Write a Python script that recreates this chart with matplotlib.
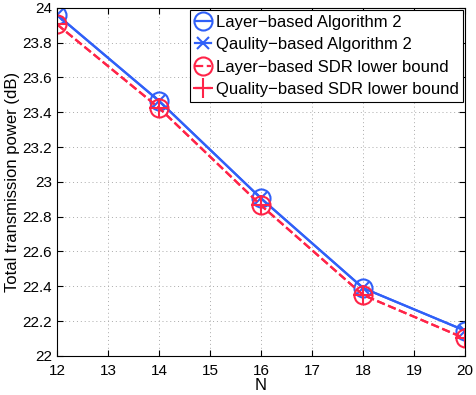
import matplotlib.pyplot as plt

plt.rcParams['font.family'] = ['Liberation Sans', 'DejaVu Sans']

N = [12, 14, 16, 18, 20]
layer_alg = [23.96, 23.465, 22.905, 22.39, 22.145]
quality_alg = [23.96, 23.465, 22.905, 22.39, 22.145]
layer_sdr = [23.905, 23.425, 22.865, 22.35, 22.10]
quality_sdr = [23.905, 23.425, 22.865, 22.35, 22.10]

xticks = [12, 13, 14, 15, 16, 17, 18, 19, 20]
yticks = [22, 22.2, 22.4, 22.6, 22.8, 23, 23.2, 23.4, 23.6, 23.8, 24]

blue = '#3060f8'
red = '#ff2448'

fig = plt.figure(figsize=(4.76, 3.95), dpi=100)
ax = fig.add_axes([0.12, 0.099, 0.857, 0.881])

ax.plot(N, layer_alg, '-', color=blue, lw=1.6, marker='o', ms=13,
        mfc='none', mew=1.5, label='Layer\u2212based Algorithm 2')
ax.plot(N, quality_alg, '-', color=blue, lw=1.6, marker='x', ms=9,
        mew=1.5, label='Qaulity\u2212based Algorithm 2')
ax.plot(N, layer_sdr, '--', color=red, lw=1.6, marker='o', ms=13,
        mfc='none', mew=1.5, label='Layer\u2212based SDR lower bound')
ax.plot(N, quality_sdr, '--', color=red, lw=1.6, marker='+', ms=14,
        mew=1.5, label='Quality\u2212based SDR lower bound')

ax.set_xlim(12, 20)
ax.set_ylim(22, 24)
ax.set_xticks(xticks)
ax.set_yticks(yticks)
ax.set_yticklabels([f'{v:g}' for v in yticks])
ax.tick_params(direction='in', labelsize=11, length=4, top=True, right=True)
ax.tick_params(axis='x', pad=6)
ax.grid(True, linestyle=(0, (1, 3)), color='#aaaaaa', linewidth=0.7)
for s in ax.spines.values():
    s.set_linewidth(0.8)

ax.set_xlabel('N', fontsize=12, labelpad=0)
ax.set_ylabel('Total transmission power (dB)', fontsize=12, labelpad=2)

leg = ax.legend(loc='upper right', fontsize=12, fancybox=False,
                framealpha=1, edgecolor='black', borderaxespad=0.1,
                handlelength=1.0, handletextpad=0.25, labelspacing=0.45,
                borderpad=0.3)
leg.get_frame().set_linewidth(0.8)

fig.savefig('out.png', dpi=100)
